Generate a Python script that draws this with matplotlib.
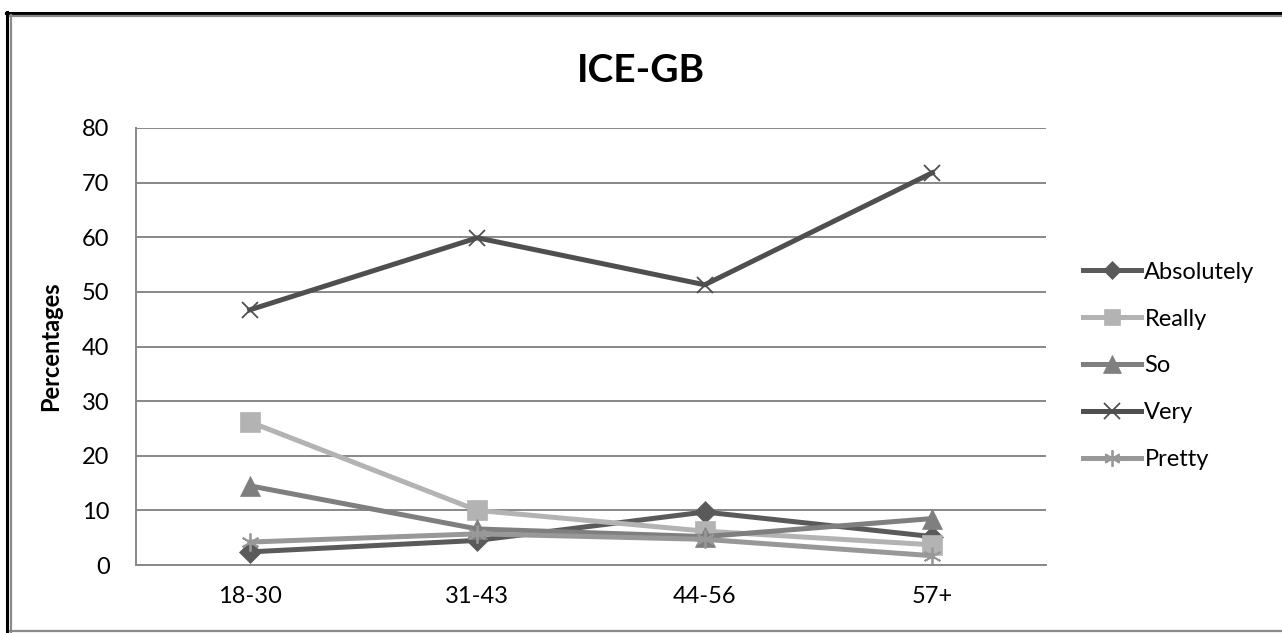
import matplotlib
matplotlib.use("Agg")
import matplotlib.pyplot as plt
from matplotlib.lines import Line2D
import numpy as np

plt.rcParams['font.family'] = ['Lato', 'DejaVu Sans']

ageGroups = ['18-30', '31-43', '44-56', '57+']
absolutely = [2.4, 4.5, 9.7, 5.2]
really = [26.2, 10.0, 6.2, 3.7]
so = [14.5, 6.6, 5.2, 8.5]
very = [46.7, 59.9, 51.3, 71.8]
pretty = [4.2, 5.7, 4.7, 1.7]

W, H = 1282, 633
fig = plt.figure(figsize=(W / 100, H / 100), dpi=100)
ax = fig.add_axes([136 / W, 1 - 565 / H, (1046 - 136) / W, (565 - 128) / H])

x = np.arange(len(ageGroups))
lw = 3.6
# name, values, colour, marker, size in plot, size in legend
series = [
    ('Absolutely', absolutely, '#5a5a5a', 'D', 11, 9),
    ('Really', really, '#b3b3b3', 's', 14, 12),
    ('So', so, '#7f7f7f', '^', 14, 13),
    ('Very', very, '#4f4f4f', 'x', 11, 11),
    ('Pretty', pretty, '#989898', (6, 2, 0), 13, 12),
]
handles = []
for name, vals, col, mk, ms, lms in series:
    mew = 1.3 if mk in ('x', (6, 2, 0)) else 0.5
    ax.plot(x, vals, color=col, lw=lw, marker=mk, ms=ms, mew=mew, mec=col, mfc=col)
    handles.append(Line2D([], [], color=col, lw=lw, marker=mk, ms=lms, mew=mew, mec=col, mfc=col))

ax.set_xlim(-0.5, 3.5)
ax.set_ylim(0, 80)
ax.set_yticks(range(0, 81, 10))
ax.set_xticks(x)
ax.set_xticklabels(ageGroups)
ax.tick_params(length=0, labelsize=17)
ax.tick_params(axis='x', pad=15)
ax.tick_params(axis='y', pad=19)
ax.grid(axis='y', color='#888888', lw=1.4)
ax.set_axisbelow(True)
for s in ['top', 'right']:
    ax.spines[s].set_visible(False)
for s in ['left', 'bottom']:
    ax.spines[s].set_color('#888888')
    ax.spines[s].set_linewidth(1.4)
ax.set_ylabel('Percentages', fontsize=17, fontweight='bold')
ax.yaxis.set_label_coords((62 - 136) / 910, 0.5)

fig.text(641 / W, 1 - 71 / H, 'ICE-GB', ha='center', va='center',
         fontsize=28, fontweight='bold')

fig.legend(handles, [s[0] for s in series], loc='center left',
           bbox_to_anchor=(1083 / W, 1 - 366 / H), frameon=False, fontsize=17,
           handlelength=2.45, handletextpad=0.15, labelspacing=1.1, borderaxespad=0,
           borderpad=0)

# outer chart border
def hline(y, x0, x1, col, w):
    fig.add_artist(Line2D([x0 / W, x1 / W], [1 - y / H, 1 - y / H], color=col, lw=w,
                          transform=fig.transFigure))

def vline(xp, y0, y1, col, w):
    fig.add_artist(Line2D([xp / W, xp / W], [1 - y0 / H, 1 - y1 / H], color=col, lw=w,
                          transform=fig.transFigure))

hline(13, 6, W, 'black', 2.2)
vline(7, 12, H, 'black', 2.2)
hline(16, 10, W, '#8a8a8a', 1.6)
vline(10.5, 15, 632, '#8a8a8a', 1.6)
hline(631, 10, W, '#8a8a8a', 1.6)

fig.savefig('out.png', dpi=100)
